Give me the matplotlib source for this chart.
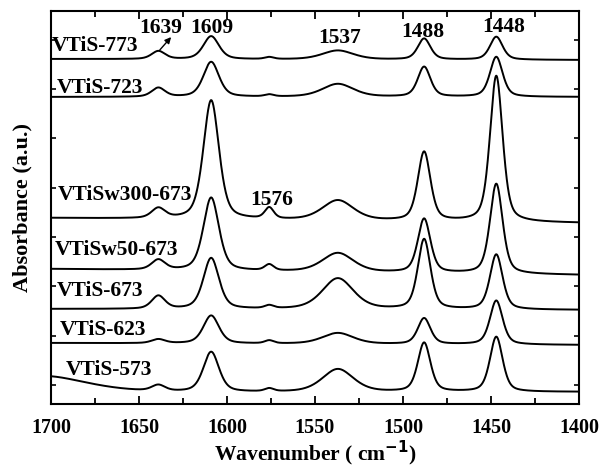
import numpy as np
import matplotlib
matplotlib.use("Agg")
import matplotlib.pyplot as plt
from matplotlib.ticker import MultipleLocator

# peak positions (cm-1) and approximate widths (FWHM, cm-1)
peak_centers = [1639, 1609, 1576, 1537, 1488, 1447]
peak_fwhm = [9, 10.5, 6, 21, 8.5, 8.5]

samples = ["VTiS-773", "VTiS-723", "VTiSw300-673", "VTiSw50-673",
           "VTiS-673", "VTiS-623", "VTiS-573"]

# vertical offset of each trace at 1700 and 1400 cm-1 (a.u.)
base_left = [345, 307, 186, 135, 95, 61, 11]
base_right = [344, 307, 181, 129, 94, 59, 12]

# peak heights above baseline, same order as peak_centers
heights = {
    "VTiS-773":     [8, 23, 2, 9, 21, 23],
    "VTiS-723":     [9, 35, 2, 13, 30, 40],
    "VTiSw300-673": [10, 119, 11, 20, 69, 146],
    "VTiSw50-673":  [10, 73, 6, 19, 54, 90],
    "VTiS-673":     [13, 51, 3, 31, 70, 55],
    "VTiS-623":     [4, 28, 3, 11, 26, 44],
    "VTiS-573":     [6, 40, 3, 23, 49, 55],
}
# broad band above 1700 cm-1 seen only in VTiS-573
extra_573 = (1705, 60, 17)

label_pos = [(1699.4, 358), (1696.6, 316), (1696, 209), (1697.7, 154),
             (1696.6, 113), (1695, 74), (1691.5, 34)]
peak_labels = ["1639", "1609", "1537", "1488", "1448", "1576"]
peak_label_pos = [(1637.5, 376), (1608.5, 376), (1535.8, 366),
                  (1488.6, 372), (1443, 377), (1574.4, 204)]


def band(x, c, w, h):
    # pseudo-Voigt line shape
    g = np.exp(-4 * np.log(2) * ((x - c) / w) ** 2)
    l = 1 / (1 + 4 * ((x - c) / w) ** 2)
    return h * (0.55 * g + 0.45 * l)


wn = np.linspace(1700, 1400, 1500)

plt.rcParams["font.family"] = "Liberation Serif"
plt.rcParams["font.weight"] = "bold"
fig = plt.figure(figsize=(6, 4.68), dpi=100)
ax = fig.add_axes([0.085, 0.1368, 0.88, 0.8397])

for i, name in enumerate(samples):
    y = base_left[i] + (base_right[i] - base_left[i]) * (1700 - wn) / 300
    for c, w, h in zip(peak_centers, peak_fwhm, heights[name]):
        y = y + band(wn, c, w, h)
    if name == "VTiS-573":
        y = y + band(wn, *extra_573)
    ax.plot(wn, y, color="black", lw=1.4)
    ax.text(label_pos[i][0], label_pos[i][1], name, fontsize=15.5,
            fontweight="bold", ha="left", va="center")

for t, (px, py) in zip(peak_labels, peak_label_pos):
    ax.text(px, py, t, fontsize=15.5, fontweight="bold", ha="center", va="center")

ax.annotate("", xy=(1630.7, 369), xytext=(1639.2, 352),
            arrowprops=dict(arrowstyle="-|>", color="black", lw=1.0,
                            mutation_scale=9))

ax.set_xlim(1700, 1400)
ax.set_ylim(0, 393)
ax.xaxis.set_major_locator(MultipleLocator(50))
ax.xaxis.set_minor_locator(MultipleLocator(25))
ax.set_yticks(np.arange(19, 393, 49.3))
ax.set_yticklabels([])
ax.tick_params(axis="x", which="major", direction="in", length=6, width=1.3,
               top=True, labelsize=14.5, pad=10)
ax.tick_params(axis="x", which="minor", direction="in", length=4, width=1.3, top=True)
ax.tick_params(axis="y", direction="in", length=3.5, width=1.2, right=True)
for s in ax.spines.values():
    s.set_linewidth(1.5)

ax.set_xlabel("Wavenumber ( cm$^{\\mathbf{-1}}$)", fontsize=15.5, fontweight="bold", labelpad=0.5)
ax.set_ylabel("Absorbance (a.u.)", fontsize=16, fontweight="bold", labelpad=10)

fig.savefig("out.png", dpi=100)
